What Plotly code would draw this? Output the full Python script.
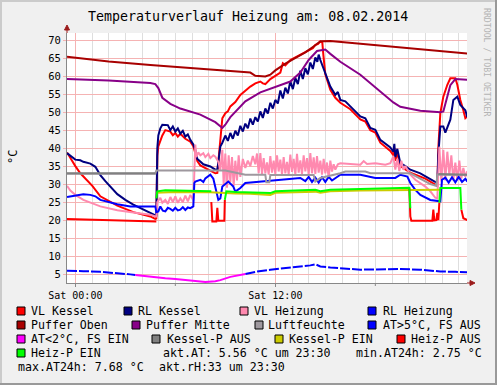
import pandas as pd
import plotly.graph_objects as go

# ---------------- data (hours after Sat 08.02.2014 00:00, value) ----------------
vl_kessel = [(-0.5,38.8),(-0.3,37.2),(0.0,35.0),(0.3,33.0),(0.6,31.5),(1.02,29.5),(1.5,26.6),(2.1,25.0),
    (2.52,24.0),(3.48,22.2),(4.5,21.0),(4.8,20.3),(4.86,20.4),(4.92,38.0),(4.98,40.5),(5.22,43.5),(5.4,45.0),
    (5.7,44.6),(5.85,43.6),(6.0,44.2),(6.15,43.2),(6.3,44.0),(6.6,42.6),(6.9,41.8),(7.08,40.5),(7.2,38.6),
    (7.32,36.4),(7.5,35.2),(7.8,34.4),(8.1,33.6),(8.4,33.0),(8.52,33.1),(8.58,36.0),(8.7,42.0),(8.82,48.3),
    (9.0,49.7),(9.15,50.2),(9.3,51.6),(9.6,52.8),(9.9,54.8),(10.2,56.0),(10.5,57.1),(10.8,58.0),(11.1,58.5),
    (11.25,58.0),(11.4,57.8),(11.7,59.2),(12.0,60.0),(12.3,61.0),(12.45,63.6),(12.6,63.0),(12.9,64.5),
    (13.2,65.2),(13.5,65.9),(13.8,66.6),(14.1,67.3),(14.25,67.8),(14.4,68.7),(14.55,68.9),(14.7,69.6),
    (14.82,69.3),(14.88,66.0),(15.0,60.5),(15.3,56.2),(15.6,54.0),(15.9,52.6),(16.5,50.8),(17.1,48.0),
    (17.4,47.4),(17.7,45.0),(18.0,44.3),(18.3,41.5),(18.9,39.2),(19.08,38.0),(19.14,40.0),(19.2,36.5),
    (19.32,38.8),(19.5,35.0),(20.1,33.2),(21.0,31.5),(21.6,30.0),(21.72,29.5),(21.78,40.0),(21.9,49.7),
    (22.08,54.3),(22.32,57.6),(22.5,59.4),(22.8,59.4),(22.92,57.6),(23.1,53.4),(23.28,50.5),(23.4,48.3),
    (23.52,48.8)]

rl_kessel = [(-0.5,38.6),(-0.3,37.8),(0.0,36.8),(0.3,36.6),(0.48,36.2),(0.9,35.7),(1.2,34.8),(1.5,32.5),
    (1.8,30.8),(2.52,27.2),(3.0,25.6),(3.48,24.3),(4.5,22.1),(4.8,21.3),(4.86,21.0),(4.92,40.0),(4.98,43.5),
    (5.1,45.5),(5.22,46.5),(5.55,46.4),(5.7,45.0),(5.85,46.0),(6.0,44.6),(6.15,45.5),(6.3,44.0),(6.45,44.8),
    (6.6,43.2),(6.75,43.8),(6.9,42.3),(7.08,41.0),(7.2,39.5),(7.32,37.0),(7.5,36.3),(7.68,35.5),(8.1,34.9),
    (8.4,34.0),(8.52,34.0),(8.58,36.0),(8.7,40.4),(8.82,41.5),(9.0,43.5),(9.15,42.0),(9.3,44.2),(9.45,42.6),
    (9.6,44.8),(9.75,43.5),(9.9,46.2),(10.05,44.6),(10.2,46.8),(10.35,45.5),(10.5,48.2),(10.65,46.5),
    (10.8,48.6),(10.95,47.4),(11.1,50.2),(11.25,48.4),(11.4,51.0),(11.55,49.6),(11.7,52.6),(11.85,51.0),
    (12.0,53.4),(12.15,52.4),(12.3,56.0),(12.45,53.8),(12.6,56.8),(12.75,55.2),(12.9,58.6),(13.05,56.4),
    (13.2,59.5),(13.35,57.8),(13.5,61.5),(13.65,59.2),(13.8,62.2),(13.95,60.5),(14.1,63.8),(14.25,62.0),
    (14.4,65.2),(14.52,64.0),(14.6,66.0),(14.7,64.5),(14.82,63.0),(15.0,60.8),(15.3,57.1),(15.6,54.8),
    (15.75,55.6),(15.9,53.4),(16.2,53.0),(16.5,51.6),(17.1,48.8),(17.4,48.3),(17.7,45.6),(18.0,45.1),
    (18.3,42.3),(18.9,40.2),(19.08,39.0),(19.14,41.2),(19.2,37.5),(19.32,39.8),(19.5,35.8),(19.8,35.0),
    (20.1,34.0),(20.7,33.0),(21.3,31.5),(21.6,30.7),(21.72,30.3),(21.78,38.0),(21.9,46.0),(22.08,46.0),
    (22.2,44.3),(22.5,47.9),(22.68,53.4),(22.92,54.3),(23.1,52.0),(23.28,51.1),(23.4,50.5),(23.52,48.6)]

vl_heizung = [(-0.5,29.5),(-0.3,28.2),(0.0,27.0),(0.48,25.6),(1.5,23.8),(2.52,22.7),(3.48,22.1),(4.5,21.5),
    (4.8,21.0),(4.86,21.0),(4.92,25.0),(5.1,26.2),(5.22,24.8),(5.4,25.6),(5.55,24.5),(5.7,26.4),(5.85,25.0),
    (6.0,26.6),(6.15,24.8),(6.3,26.0),(6.45,25.0),(6.6,26.8),(6.75,25.2),(6.9,27.0),(7.08,25.5),(7.14,35.0),
    (7.2,41.0),(7.26,37.5),(7.38,38.8),(7.5,38.0),(7.68,38.6),(7.8,37.5),(7.98,38.4),(8.1,37.2),(8.28,38.0),
    (8.4,37.6),(8.58,36.2),(8.7,34.0),(8.82,39.5),(8.9,30.0),(9.0,38.5),(9.1,29.0),(9.2,38.0),(9.3,30.5),
    (9.4,37.5),(9.5,29.5),(9.6,36.5),(9.7,31.0),(9.8,38.0),(9.9,32.0),(10.05,37.0),(10.2,34.5),(10.35,36.5),
    (10.5,35.0),(10.65,37.8),(10.8,35.5),(10.9,38.5),(11.0,33.0),(11.1,38.6),(11.2,32.8),(11.3,37.2),
    (11.4,33.0),(11.5,36.0),(11.6,32.6),(11.7,37.8),(11.8,33.2),(11.9,36.5),(12.0,32.8),(12.1,38.0),
    (12.2,33.5),(12.3,36.8),(12.4,32.6),(12.5,37.5),(12.6,33.0),(12.7,36.2),(12.8,32.7),(12.9,38.2),
    (13.0,33.4),(13.1,37.0),(13.2,32.6),(13.3,38.4),(13.4,33.2),(13.5,36.6),(13.6,32.8),(13.7,38.0),
    (13.8,33.5),(13.9,37.2),(14.0,32.6),(14.1,38.6),(14.2,33.0),(14.3,37.4),(14.4,32.8),(14.5,37.8),
    (14.6,33.2),(14.7,36.5),(14.8,32.6),(14.9,37.0),(15.0,33.0),(15.1,36.0),(15.2,31.5),(15.3,36.5),
    (15.4,33.5),(15.5,35.5),(15.6,34.0),(15.75,35.5),(15.9,35.8),(16.2,35.8),(16.5,35.6),(17.1,35.4),
    (17.3,36.4),(17.5,35.6),(18.0,35.8),(18.6,35.4),(18.9,35.8),(19.08,37.7),(19.2,34.0),(19.32,37.0),
    (19.44,33.6),(19.56,36.5),(19.68,34.0),(19.8,35.0),(20.1,32.6),(20.4,31.2),(21.0,29.3),(21.3,28.0),
    (21.6,26.2),(21.72,26.0),(21.84,40.4),(21.96,30.7),(22.08,39.5),(22.2,31.0),(22.32,39.0),(22.44,32.5),
    (22.56,38.0),(22.68,31.0),(22.8,36.0),(22.92,31.0),(23.04,36.5),(23.16,31.5),(23.28,34.5),(23.4,32.0),
    (23.52,33.6)]

rl_heizung = [(-0.5,26.4),(0.0,26.8),(0.48,27.2),(0.9,27.0),(1.2,26.6),(1.5,25.6),(2.52,24.4),(3.3,23.8),
    (4.8,23.8),(4.86,22.2),(4.98,22.4),(5.1,23.8),(5.25,22.6),(5.4,22.4),(5.55,23.4),(5.7,23.1),(5.85,22.6),
    (6.0,23.4),(6.15,22.7),(6.3,22.9),(6.45,23.6),(6.6,22.8),(6.75,23.5),(6.9,23.3),(7.08,23.8),(7.14,30.3),
    (7.2,30.7),(7.5,31.2),(7.68,30.6),(7.8,31.6),(8.0,32.2),(8.1,32.6),(8.28,31.5),(8.4,29.3),(8.52,26.5),
    (8.58,25.6),(8.7,26.0),(8.82,29.3),(9.18,30.7),(9.48,29.3),(9.6,27.9),(9.9,28.9),(10.2,30.3),(11.1,30.7),
    (11.7,30.8),(12.3,31.2),(12.9,31.4),(13.5,31.7),(13.8,30.8),(14.0,32.0),(14.2,30.6),(14.4,31.8),
    (14.6,30.4),(14.8,31.9),(15.0,30.6),(15.2,32.0),(15.4,31.0),(15.9,32.6),(17.1,32.6),(18.0,31.7),
    (19.2,31.7),(19.5,32.6),(19.92,32.1),(20.1,30.3),(20.4,28.4),(20.7,27.0),(21.3,25.6),(21.72,25.2),
    (21.9,25.2),(22.0,31.2),(22.2,31.8),(22.4,30.4),(22.6,31.9),(22.8,30.5),(23.0,32.0),(23.2,30.6),
    (23.4,31.5),(23.52,30.7)]

puffer_oben = [(-0.5,65.4),(2.0,64.1),(4.5,63.1),(7.5,62.1),(10.5,61.0),(10.8,60.1),(11.4,59.9),(11.7,60.4),
    (12.0,61.6),(12.6,63.5),(13.2,65.0),(13.8,66.6),(14.4,68.6),(14.7,69.7),(15.3,69.8),(23.52,66.3)]

puffer_mitte = [(-0.5,59.2),(2.0,58.8),(4.5,58.1),(4.8,57.8),(4.98,56.7),(5.1,55.3),(5.22,54.0),(5.7,52.3),
    (6.3,51.0),(7.5,49.3),(8.4,47.2),(8.82,45.6),(9.0,46.5),(9.3,48.6),(9.9,51.5),(10.2,53.0),(11.1,55.5),
    (12.3,57.5),(12.9,58.5),(13.5,61.0),(14.0,64.5),(14.5,67.0),(15.0,67.4),(15.3,66.2),(15.9,64.0),
    (17.1,60.4),(18.3,55.7),(19.08,52.7),(19.5,51.5),(20.7,50.4),(21.9,50.0),(22.08,50.2),(22.5,57.5),
    (22.8,59.2),(23.52,59.0)]

luftfeuchte = [(-0.5,32.9),(4.8,32.9),(4.86,33.8),(9.0,33.8),(10.2,32.6),(11.4,32.6),(11.46,30.5),(11.64,30.5),
    (11.7,32.5),(14.3,32.5),(14.4,30.7),(14.7,31.7),(15.9,33.0),(16.2,33.5),(17.4,33.5),(17.7,33.0),(20.1,33.0),
    (21.3,30.0),(21.66,29.5),(21.72,32.6),(23.52,32.6)]

at_ueber5 = [(-0.5,5.9),(0.0,5.9),(0.48,5.8),(1.5,5.6),(2.52,5.3),(3.3,4.9),(3.6,4.7),(3.65,None),(10.2,5.0),
    (10.8,5.6),(11.7,6.2),(12.6,6.6),(13.5,7.0),(14.1,7.4),(14.4,7.7),(14.7,7.1),(15.3,6.8),(15.9,6.7),
    (16.5,6.4),(17.1,6.2),(18.3,6.4),(19.5,6.4),(20.7,6.2),(21.9,5.7),(22.8,5.6),(23.52,5.5)]

at_unter2 = [(3.6,4.7),(4.5,4.2),(5.4,3.8),(6.0,3.6),(7.2,3.0),(7.8,2.8),(8.4,3.0),(8.7,3.3),(9.3,4.2),
    (9.9,4.7),(10.2,5.0)]

kessel_p_aus = [(-0.5,33.0),(4.8,33.0),(4.86,None),(21.78,32.8),(23.52,32.6)]

kessel_p_ein = [(4.86,27.6),(6.0,27.8),(8.1,27.7),(8.4,27.6),(9.0,27.5),(9.6,27.4),(10.5,27.3),(11.7,27.0),
    (12.0,27.6),(13.5,27.8),(14.4,27.9),(14.7,27.6),(15.3,28.0),(17.1,28.2),(19.5,28.4),(20.1,28.4),(21.9,28.4)]

heiz_p_aus = [(-0.5,20.3),(4.8,19.6),(4.86,19.6),(4.9,None),(8.16,25.0),(8.22,19.6),(8.46,19.6),(8.52,23.4),
    (8.58,19.8),(8.94,19.8),(8.97,25.6),(9.0,None),(20.04,29.0),(20.1,21.0),(20.16,19.8),(21.42,19.8),
    (21.48,22.9),(21.54,19.9),(21.66,20.0),(21.72,22.0),(21.78,20.0),(21.84,24.8),(21.9,None),(23.16,22.9),
    (23.22,21.0),(23.28,20.5),(23.52,20.0)]

heiz_p_ein = [(4.86,26.0),(4.92,28.0),(5.4,28.3),(6.6,28.2),(7.8,28.1),(8.1,28.0),(8.16,28.0),(8.2,None),
    (8.97,25.6),(9.06,28.0),(9.6,27.8),(10.5,27.7),(11.7,27.5),(12.0,28.0),(12.6,28.1),(13.5,28.2),
    (14.4,28.4),(14.7,28.0),(15.3,28.4),(17.1,28.6),(19.5,29.0),(20.04,29.0),(20.1,23.3),(20.12,None),
    (21.84,24.8),(21.9,28.9),(23.1,28.9),(23.16,22.9)]

series_names = ["VL Kessel", "RL Kessel", "VL Heizung", "RL Heizung", "Puffer Oben", "Puffer Mitte",
                "Luftfeuchte", "AT>5°C, FS AUS", "AT<2°C, FS EIN", "Kessel-P AUS", "Kessel-P EIN",
                "Heiz-P AUS", "Heiz-P EIN"]
series_data = [vl_kessel, rl_kessel, vl_heizung, rl_heizung, puffer_oben, puffer_mitte, luftfeuchte,
               at_ueber5, at_unter2, kessel_p_aus, kessel_p_ein, heiz_p_aus, heiz_p_ein]
series_colors = ["#FF0000", "#000080", "#FF89AF", "#0000FF", "#A80000", "#880088", "#9E989E",
                 "#0000FF", "#FF00FF", "#808080", "#CCCC00", "#FF0000", "#00FF00"]

title_text = "Temperaturverlauf Heizung am: 08.02.2014"
unit_text = "°C"
info_lines = ["akt.AT: 5.56 °C um 23:30", "min.AT24h: 2.75 °C", "max.AT24h: 7.68 °C", "akt.rH:33 um 23:30"]
x_tick_labels = ["Sat 00:00", "Sat 12:00"]

# ---------------- figure ----------------
BASE = pd.Timestamp("2014-02-08 00:00")
PL, PR, PT, PB = 67, 467, 33, 283


def fx(px):
    return (px - PL) / (PR - PL)


def fy(py):
    return (PB - py) / (PB - PT)


def to_xy(pairs):
    xs = [BASE + pd.Timedelta(hours=h) for h, _ in pairs]
    ys = [v for _, v in pairs]
    return xs, ys


fig = go.Figure()
for name, data, color in zip(series_names, series_data, series_colors):
    xs, ys = to_xy(data)
    dash = "10px,2px" if name.startswith("AT>5") else "solid"
    fig.add_trace(go.Scatter(x=xs, y=ys, mode="lines", name=name, connectgaps=False,
                             line=dict(color=color, width=2, dash=dash), hoverinfo="skip",
                             showlegend=False))

MONO = "DejaVu Sans Mono"
GRID_RED = "#F5B3B3"
ann = []
shapes = []

# title, unit, watermark
ann.append(dict(text=title_text, x=fx(248), y=fy(16.5), xref="paper", yref="paper", showarrow=False,
                xanchor="center", yanchor="middle", font=dict(family=MONO, size=13.3, color="#000")))
ann.append(dict(text=unit_text, x=fx(13), y=fy(157), xref="paper", yref="paper", showarrow=False,
                textangle=-90, xanchor="center", yanchor="middle", font=dict(family=MONO, size=12, color="#000")))
ann.append(dict(text="RRDTOOL / TOBI OETIKER", x=fx(487), y=fy(62), xref="paper", yref="paper", showarrow=False,
                textangle=90, xanchor="center", yanchor="middle", font=dict(family=MONO, size=8.2, color="#B4B4B4")))

# legend (manual, rrdtool style)
legend_pos = [  # (box x, text x, row y)
    (17, 30, 311), (124, 137, 311), (240, 253, 311), (368, 382, 311),
    (17, 30, 325), (132, 145, 325), (255, 267, 325), (368, 382, 325),
    (17, 30, 339), (152, 166, 339), (275, 288, 339), (397, 410, 339),
    (17, 30, 353)]
for (bx, tx, cy), name, color in zip(legend_pos, series_names, series_colors):
    shapes.append(dict(type="rect", xref="paper", yref="paper", x0=fx(bx), x1=fx(bx + 8),
                       y0=fy(cy + 4), y1=fy(cy - 4), fillcolor=color, line=dict(color="#000", width=1)))
    ann.append(dict(text=name, x=fx(tx - 1), y=fy(cy), xref="paper", yref="paper", showarrow=False,
                    xanchor="left", yanchor="middle", font=dict(family=MONO, size=11.6, color="#000")))
info_pos = [(161, 353), (354, 353), (16, 367), (157, 367)]
for (tx, cy), txt in zip(info_pos, info_lines):
    ann.append(dict(text=txt, x=fx(tx), y=fy(cy), xref="paper", yref="paper", showarrow=False,
                    xanchor="left", yanchor="middle", font=dict(family=MONO, size=11.6, color="#000")))

# axis arrows
ARROW = "#9B1B1B"
shapes.append(dict(type="line", xref="paper", yref="paper", x0=fx(67), x1=fx(67), y0=fy(33), y1=fy(28),
                   line=dict(color=ARROW, width=1)))
shapes.append(dict(type="path", xref="paper", yref="paper",
                   path=f"M{fx(64.5)},{fy(30)} L{fx(67)},{fy(25)} L{fx(69.5)},{fy(30)} Z",
                   fillcolor=ARROW, line=dict(color=ARROW, width=1)))
shapes.append(dict(type="line", xref="paper", yref="paper", x0=fx(467), x1=fx(472), y0=fy(283), y1=fy(283),
                   line=dict(color=ARROW, width=1)))
shapes.append(dict(type="path", xref="paper", yref="paper",
                   path=f"M{fx(470)},{fy(280.5)} L{fx(475)},{fy(283)} L{fx(470)},{fy(285.5)} Z",
                   fillcolor=ARROW, line=dict(color=ARROW, width=1)))
# small ticks at 06:00 and 18:00
for hh in (6, 18):
    t = BASE + pd.Timedelta(hours=hh)
    shapes.append(dict(type="line", xref="x", yref="paper", x0=t, x1=t, y0=fy(283), y1=fy(286),
                       line=dict(color="#888888", width=1)))

# outer 3D border
shapes.append(dict(type="line", xref="paper", yref="paper", x0=fx(0), x1=fx(497), y0=fy(1), y1=fy(1),
                   line=dict(color="#CBCBCB", width=2)))
shapes.append(dict(type="line", xref="paper", yref="paper", x0=fx(1), x1=fx(1), y0=fy(0), y1=fy(385),
                   line=dict(color="#CBCBCB", width=2)))
shapes.append(dict(type="line", xref="paper", yref="paper", x0=fx(0), x1=fx(497), y0=fy(384), y1=fy(384),
                   line=dict(color="#999999", width=2)))
shapes.append(dict(type="line", xref="paper", yref="paper", x0=fx(496), x1=fx(496), y0=fy(0), y1=fy(385),
                   line=dict(color="#999999", width=2)))

fig.update_layout(
    width=497, height=385,
    margin=dict(l=PL, r=497 - PR, t=PT, b=385 - PB),
    paper_bgcolor="#F0F0F0", plot_bgcolor="#FFFFFF",
    showlegend=False,
    font=dict(family=MONO, size=10, color="#000"),
    annotations=ann, shapes=shapes,
    xaxis=dict(type="date",
               range=[BASE - pd.Timedelta(minutes=30), BASE + pd.Timedelta(hours=23, minutes=30)],
               tickmode="array",
               tickvals=[BASE, BASE + pd.Timedelta(hours=12)], ticktext=x_tick_labels,
               showgrid=True, gridcolor=GRID_RED, gridwidth=1,
               ticks="outside", ticklen=3, tickcolor="#888888",
               showline=True, linecolor="#888888", linewidth=1, zeroline=False,
               tickfont=dict(family=MONO, size=10, color="#000"),
               minor=dict(dtick=3600000, tick0=BASE, showgrid=True, gridcolor="#DEDEDE", gridwidth=1)),
    yaxis=dict(range=[2.5, 72], tick0=0, dtick=5,
               showgrid=True, gridcolor=GRID_RED, gridwidth=1,
               ticks="outside", ticklen=3, tickcolor=GRID_RED,
               showline=True, linecolor="#888888", linewidth=1, zeroline=False,
               tickfont=dict(family=MONO, size=10.5, color="#000")),
)

fig.write_html("out.html", config={"displayModeBar": False, "staticPlot": True},
               post_script="document.body.style.margin='0';document.body.style.overflow='hidden';")
